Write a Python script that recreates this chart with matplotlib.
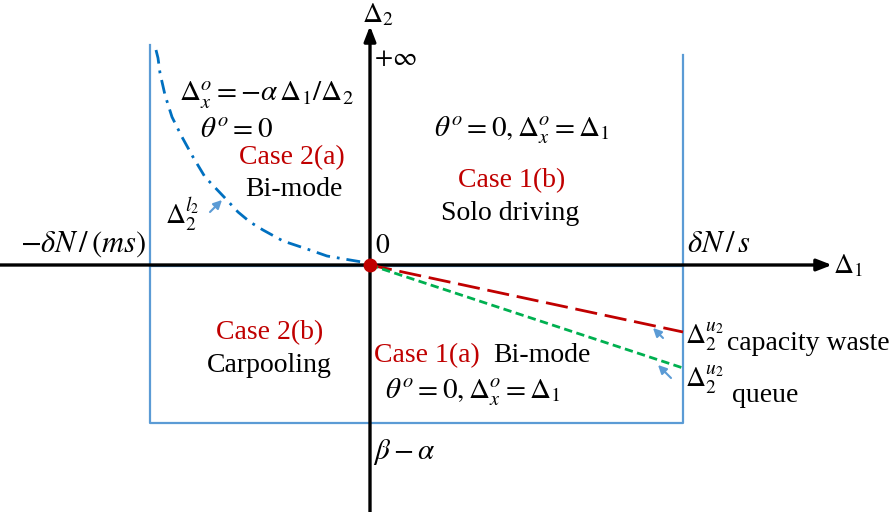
import matplotlib
matplotlib.use("Agg")
import matplotlib.pyplot as plt

plt.rcParams["font.family"] = ["Liberation Serif", "DejaVu Serif"]
plt.rcParams["mathtext.fontset"] = "stix"

# Region bounds on the (Δ1, Δ2) plane, drawing units
d1_left, d1_right = -220, 313
d2_bottom = -158
d2_top_left, d2_top_right = 220, 210

# Lower boundary Δ2^{l2} for Δ1 < 0
l2_d1 = [-214, -212, -210, -205, -198, -188, -177, -165, -145, -132, -120,
         -107, -87, -63, -43, -20, -2, 0]
l2_d2 = [215, 207, 192, 170, 148, 128, 108, 88, 67, 53, 43,
         35, 24, 16, 9, 5, 2, 0]

# Upper boundaries Δ2^{u2} for Δ1 > 0
u2_waste_d1 = [0, 313]
u2_waste_d2 = [0, -67]
u2_queue_d1 = [0, 313]
u2_queue_d2 = [0, -103]

RED = "#C00000"
BLUE = "#5B9BD5"
DARK_BLUE = "#0070C0"
GREEN = "#00B050"

fig = plt.figure(figsize=(8.96, 5.12), dpi=100)
ax = fig.add_axes([0, 0, 1, 1])
ax.set_xlim(-370, 526)
ax.set_ylim(-247, 265)
ax.axis("off")

# region boxes
ax.plot([d1_left, d1_left, d1_right, d1_right],
        [d2_top_left, d2_bottom, d2_bottom, d2_top_right],
        color=BLUE, lw=1.6, zorder=2)
ax.plot([d1_left, d1_right], [-1, -1], color=BLUE, lw=1.6, zorder=2)

# axes with arrows
head = "-|>,head_length=0.9,head_width=0.35"
ax.annotate("", xy=(462, 0), xytext=(-370, 0),
            arrowprops=dict(arrowstyle=head, color="black", lw=2.4,
                            shrinkA=0, shrinkB=0), zorder=3)
ax.annotate("", xy=(0, 239), xytext=(0, -247),
            arrowprops=dict(arrowstyle=head, color="black", lw=2.4,
                            shrinkA=0, shrinkB=0), zorder=3)

# boundary curves
ax.plot(l2_d1, l2_d2, color=DARK_BLUE, lw=2, ls=(0, (5, 2.5, 1, 2.5)), zorder=4)
ax.plot(u2_waste_d1, u2_waste_d2, color=RED, lw=2, ls=(0, (8, 2.8)), zorder=4)
ax.plot(u2_queue_d1, u2_queue_d2, color=GREEN, lw=2, ls=(0, (3, 1.6)), zorder=4)
ax.plot([0], [0], "o", color=RED, ms=9, zorder=6)

# small pointer arrows
arrow_kw = dict(arrowstyle="-|>,head_length=0.5,head_width=0.25", color=BLUE, lw=1.5,
                shrinkA=0, shrinkB=0)
ax.annotate("", xy=(-148, 65), xytext=(-160, 53), arrowprops=arrow_kw, zorder=5)
ax.annotate("", xy=(283, -63), xytext=(293, -73), arrowprops=arrow_kw, zorder=5)
ax.annotate("", xy=(288, -100), xytext=(301, -113), arrowprops=arrow_kw, zorder=5)

fs = 20
# axis labels
ax.text(8, 243, r"$\Delta_2$", fontsize=fs, ha="center", va="baseline")
ax.text(4, 206, r"$+\infty$", fontsize=fs - 1, ha="left", va="center")
ax.text(463, -1, r"$\Delta_1$", fontsize=fs, ha="left", va="center")
ax.text(5, 6, r"$0$", fontsize=fs, ha="left", va="bottom")
ax.text(-224, 6, r"$-\delta N\,/\,(ms)$", fontsize=fs + 2, ha="right", va="bottom")
ax.text(317, 6, r"$\delta N\,/\,s$", fontsize=fs + 2, ha="left", va="bottom")
ax.text(3, -187, r"$\beta-\alpha$", fontsize=fs + 1, ha="left", va="center")

# Case 2(a)
ax.text(-103, 170, r"$\Delta_x^o=-\alpha\,\Delta_1/\Delta_2$", fontsize=fs + 1,
        ha="center", va="center")
ax.text(-133, 135, r"$\theta^o=0$", fontsize=fs + 1, ha="center", va="center")
ax.text(-78, 107, "Case 2(a)", fontsize=fs, color=RED, ha="center", va="center")
ax.text(-76, 75, "Bi-mode", fontsize=fs, ha="center", va="center")
ax.text(-188, 50, r"$\Delta_2^{l_2}$", fontsize=fs, ha="center", va="center")

# Case 1(b)
ax.text(152, 135, r"$\theta^o=0,\Delta_x^o=\Delta_1$", fontsize=fs + 1,
        ha="center", va="center")
ax.text(142, 84, "Case 1(b)", fontsize=fs, color=RED, ha="center", va="center")
ax.text(140, 51, "Solo driving", fontsize=fs, ha="center", va="center")

# Case 2(b)
ax.text(-100, -68, "Case 2(b)", fontsize=fs, color=RED, ha="center", va="center")
ax.text(-101, -101, "Carpooling", fontsize=fs, ha="center", va="center")

# Case 1(a)
ax.text(4, -91, "Case 1(a)", fontsize=fs, color=RED, ha="left", va="center")
ax.text(123, -91, "Bi-mode", fontsize=fs, ha="left", va="center")
ax.text(103, -127, r"$\theta^o=0,\Delta_x^o=\Delta_1$", fontsize=fs + 1,
        ha="center", va="center")

# Δ2^{u2} labels
ax.text(315, -72, r"$\Delta_2^{u_2}$", fontsize=fs, ha="left", va="center")
ax.text(357, -79, "capacity waste", fontsize=fs, ha="left", va="center")
ax.text(315, -115, r"$\Delta_2^{u_2}$", fontsize=fs, ha="left", va="center")
ax.text(362, -130, "queue", fontsize=fs, ha="left", va="center")

fig.savefig("out.png", dpi=100)
